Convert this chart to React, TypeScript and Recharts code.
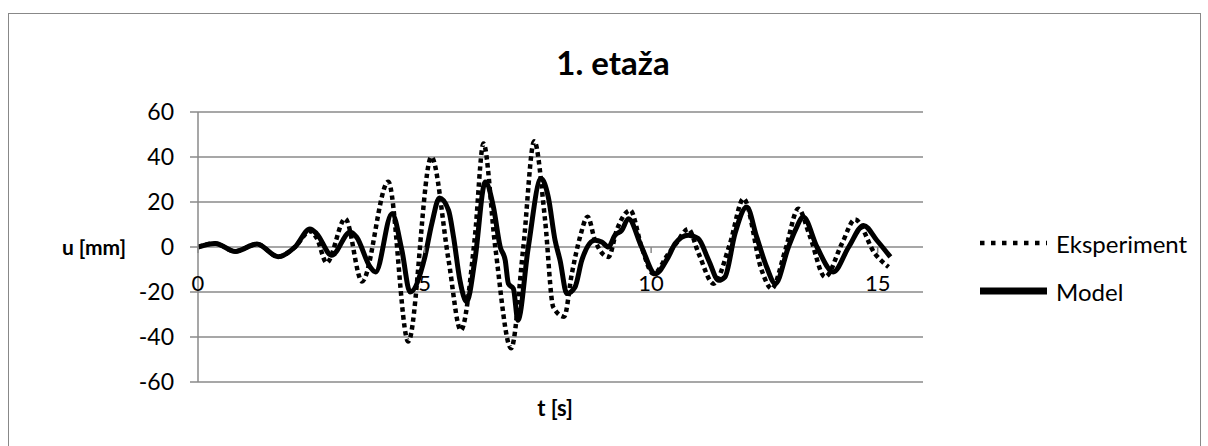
import React from "react"
import { LineChart, Line, XAxis, YAxis, CartesianGrid, Legend } from "recharts"

// time [s] and displacement [mm]
const modelTime = [
  0, 0.38, 0.82, 1.3, 1.77, 2.14, 2.47, 2.62, 2.95, 3.36, 3.5, 3.8, 3.92, 4.28, 4.5, 4.68, 5.0, 5.16, 5.33,
  5.53, 5.64, 5.78, 5.93, 6.11, 6.34, 6.52, 6.67, 6.78, 6.85, 6.96, 7.06, 7.29, 7.57, 7.73, 7.88, 7.99, 8.14,
  8.32, 8.47, 8.76, 8.91, 9.06, 9.2, 9.35, 9.5, 9.79, 10.09, 10.38, 10.53, 10.82, 11.04, 11.27, 11.49, 11.63,
  11.85, 12.11, 12.33, 12.55, 12.74, 13.03, 13.18, 13.36, 13.66, 14.02, 14.36, 14.69, 14.98, 15.28,
]
const modelDisp = [
  0, 1.6, -2, 1.3, -4.3, 0, 8, 5.9, -3.7, 6.7, 4.4, -8.9, -11.1, 14.8, -1.5, -20, -5, 10.4, 21.8,
  16.3, 4.4, -14.8, -24.4, -5.9, 28.9, 17.8, 0, -5.9, -16.3, -18.5, -32.6, 0, 30.4, 22.2, 3, -5.9, -20.7,
  -17.8, -5.9, 3, 2.2, 0, 5.2, 7.4, 12.6, 0, -11.9, -4.4, 1.5, 5.2, 3.7, -5.9, -14.8, -13.3,
  5.9, 17.8, 4.4, -8.9, -16.3, 0, 7.4, 13.3, 0, -11.1, 0, 9.6, 3, -4.4,
]

const expTime = [
  0, 0.38, 0.82, 1.3, 1.77, 2.14, 2.47, 2.62, 2.84, 3.25, 3.62, 4.2, 4.64, 5.15, 5.53, 5.8, 6.11, 6.3,
  6.56, 6.91, 7.18, 7.42, 7.66, 7.84, 8.08, 8.25, 8.43, 8.6, 8.76, 9.06, 9.24, 9.54, 9.79, 10.05, 10.38,
  10.55, 10.82, 11.05, 11.38, 11.74, 12.04, 12.44, 12.66, 12.96, 13.25, 13.5, 13.84, 14.21, 14.5, 14.94, 15.24,
]
const expDisp = [
  0, 1.6, -2, 1.3, -4.3, 0, 7, 4, -7, 12.6, -15.3, 29, -42, 40, -5.9, -37, 4.4, 46,
  0, -45, 0, 47, 11.9, -26.7, -31, -11.9, 4.4, 13.5, 3, -4.4, 7.4, 16.3, 0, -12, -3,
  1.5, 8, -3, -16.3, 1.5, 21.5, -10.4, -18.5, -1.5, 17, 5, -13.3, 1.5, 12.2, -3, -8.9,
]

const xTicks = [0, 5, 10, 15]
const yTicks = [-60, -40, -20, 0, 20, 40, 60]

const FONT = "Lato, 'Open Sans', sans-serif"
const PLOT_TOP = 112
const PLOT_H = 270
const ZERO_Y = PLOT_TOP + PLOT_H / 2

const expData = expTime.map((t, i) => ({ t, u: expDisp[i] }))
const modelData = modelTime.map((t, i) => ({ t, u: modelDisp[i] }))

function XTick(props: any) {
  const { x, payload } = props
  return (
    <g>
      <line x1={x} x2={x} y1={ZERO_Y} y2={ZERO_Y + 6} stroke="#888" strokeWidth={1.5} />
      <text x={x} y={ZERO_Y + 35} textAnchor="middle" dominantBaseline="central" fontSize={22} fontFamily={FONT} fill="#000">
        {payload.value}
      </text>
    </g>
  )
}

function LegendBox() {
  const items = [
    { name: "Eksperiment", dash: "4.5 6.5", w: 4.5 },
    { name: "Model", dash: undefined, w: 7 },
  ]
  return (
    <div style={{ fontFamily: FONT, fontSize: 24 }}>
      {items.map((it) => (
        <div key={it.name} style={{ display: "flex", alignItems: "center", height: 48 }}>
          <svg width={67} height={10} style={{ marginRight: 9 }}>
            <line x1={0} x2={67} y1={5} y2={5} stroke="#000" strokeWidth={it.w} strokeDasharray={it.dash} />
          </svg>
          <span>{it.name}</span>
        </div>
      ))}
    </div>
  )
}

export default function App() {
  return (
    <div style={{ position: "absolute", left: 0, top: 0, width: 1208, height: 446, background: "#fff", overflow: "hidden" }}>
      <div style={{ position: "absolute", left: 8, top: 13, width: 1191, height: 460, border: "1.5px solid #888" }} />
      <div style={{ position: "absolute", left: 0, width: 1226, top: 43, textAlign: "center", fontFamily: FONT, fontWeight: 700, fontSize: 33, lineHeight: "38px" }}>
        1. etaža
      </div>
      <div style={{ position: "absolute", left: 50, width: 88, top: ZERO_Y - 15, textAlign: "center", fontFamily: FONT, fontWeight: 700, fontSize: 21, lineHeight: "30px" }}>
        u [mm]
      </div>
      <div style={{ position: "absolute", left: 505, width: 100, top: 393, textAlign: "center", fontFamily: FONT, fontWeight: 700, fontSize: 22, lineHeight: "30px" }}>
        t [s]
      </div>
      <div style={{ position: "absolute", left: 0, top: 0 }}>
        <LineChart width={1208} height={446} margin={{ top: PLOT_TOP, right: 285, bottom: 446 - PLOT_TOP - PLOT_H - 30, left: 0 }}>
          <CartesianGrid vertical={false} stroke="#8a8a8a" strokeWidth={1.5} />
          <XAxis
            type="number"
            dataKey="t"
            domain={[0, 16]}
            ticks={xTicks}
            height={30}
            axisLine={false}
            tickLine={false}
            tick={<XTick />}
            allowDataOverflow
          />
          <YAxis
            type="number"
            domain={[-60, 60]}
            ticks={yTicks}
            width={198}
            axisLine={{ stroke: "#8a8a8a", strokeWidth: 1.5 }}
            tickLine={{ stroke: "#8a8a8a", strokeWidth: 1.5 }}
            tickSize={8}
            tickMargin={16}
            tick={{ fontSize: 23, fontFamily: FONT, fill: "#000" }}
          />
          <Legend
            layout="horizontal"
            verticalAlign="middle"
            align="center"
            wrapperStyle={{ left: 980, top: 219, width: 228 }}
            content={() => <LegendBox />}
          />
          <Line
            data={expData}
            dataKey="u"
            name="Eksperiment"
            type="monotone"
            stroke="#000"
            strokeWidth={4.5}
            strokeDasharray="4.5 3.5"
            dot={false}
            isAnimationActive={false}
          />
          <Line
            data={modelData}
            dataKey="u"
            name="Model"
            type="monotone"
            stroke="#000"
            strokeWidth={5}
            dot={false}
            isAnimationActive={false}
          />
        </LineChart>
      </div>
    </div>
  )
}
